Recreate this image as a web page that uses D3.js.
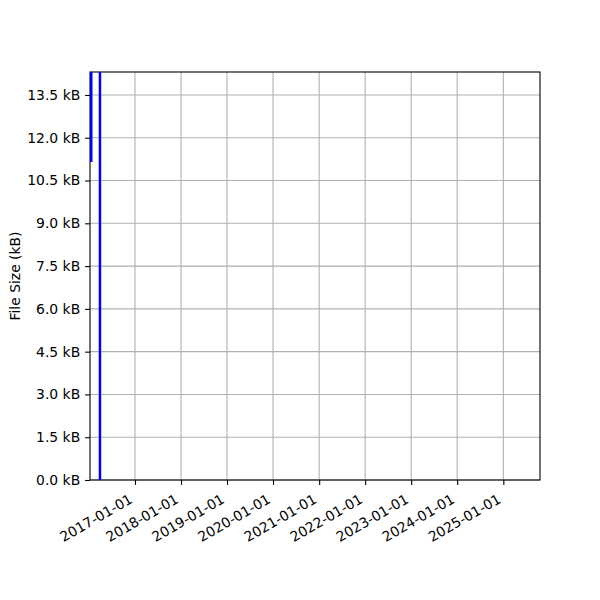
<!DOCTYPE html>
<html>
<head>
<meta charset="utf-8">
<script src="https://cdn.jsdelivr.net/npm/d3@7"></script>
<style>
  body { margin: 0; background: #fff; }
  svg { font-family: "DejaVu Sans", sans-serif; }
</style>
</head>
<body>
<script>
// data: file size snapshots (kB); values past the top are clipped by the axes
var dates = ["2016-01-20", "2016-01-20", "2016-03-29", "2016-03-29"];
var sizes = [11.15, 400, 400, 0];
var yTicks = [0, 1.5, 3, 4.5, 6, 7.5, 9, 10.5, 12, 13.5];
var xTickYears = [2017, 2018, 2019, 2020, 2021, 2022, 2023, 2024, 2025];

var W = 600, H = 600;
var mLeft = 90, mRight = 540, mTop = 72, mBottom = 480;
var fs = 13.9;

var svg = d3.select("body").append("svg")
  .attr("width", W).attr("height", H);
svg.append("rect").attr("width", W).attr("height", H).attr("fill", "#fff");

var parse = d3.utcParse("%Y-%m-%d");
var x = d3.scaleUtc()
  .domain([parse("2016-01-10"), parse("2025-10-19")])
  .range([mLeft, mRight]);
var y = d3.scaleLinear().domain([0, 14.305]).range([mBottom, mTop]);

// grid
var xTicks = xTickYears.map(function (yr) { return new Date(Date.UTC(yr, 0, 1)); });
svg.append("g").selectAll("line").data(xTicks).enter().append("line")
  .attr("x1", function (d) { return x(d); }).attr("x2", function (d) { return x(d); })
  .attr("y1", mTop).attr("y2", mBottom)
  .attr("stroke", "#b0b0b0").attr("stroke-width", 1.1);
svg.append("g").selectAll("line").data(yTicks).enter().append("line")
  .attr("x1", mLeft).attr("x2", mRight)
  .attr("y1", function (d) { return y(d); }).attr("y2", function (d) { return y(d); })
  .attr("stroke", "#b0b0b0").attr("stroke-width", 1.1);

// axes
var yAxis = svg.append("g").attr("transform", "translate(" + mLeft + ",0)")
  .call(d3.axisLeft(y).tickValues(yTicks).tickSize(4.9).tickPadding(4.9)
    .tickFormat(function (d) { return d.toFixed(1) + " kB"; }));
yAxis.select(".domain").remove();
yAxis.selectAll("line").attr("stroke", "#000").attr("stroke-width", 1.1);
yAxis.selectAll("text").attr("font-size", fs).attr("font-family", "DejaVu Sans").attr("fill", "#000");

var xAxis = svg.append("g").attr("transform", "translate(0," + mBottom + ")")
  .call(d3.axisBottom(x).tickValues(xTicks).tickSize(4.9)
    .tickFormat(d3.utcFormat("%Y-%m-%d")));
xAxis.select(".domain").remove();
xAxis.selectAll("line").attr("stroke", "#000").attr("stroke-width", 1.1);
xAxis.selectAll("text")
  .attr("font-size", fs).attr("font-family", "DejaVu Sans").attr("fill", "#000")
  .attr("text-anchor", "end").attr("dy", null).attr("y", null)
  .attr("transform", "translate(-2,22) rotate(-30)");

// spines
svg.append("rect").attr("x", mLeft).attr("y", mTop)
  .attr("width", mRight - mLeft).attr("height", mBottom - mTop)
  .attr("fill", "none").attr("stroke", "#000").attr("stroke-width", 1.1);

// line
svg.append("clipPath").attr("id", "clip").append("rect")
  .attr("x", mLeft).attr("y", mTop).attr("width", mRight - mLeft).attr("height", mBottom - mTop);
var pts = dates.map(function (d, i) { return [parse(d), sizes[i]]; });
svg.append("path").datum(pts)
  .attr("clip-path", "url(#clip)")
  .attr("fill", "none").attr("stroke", "#0000ff").attr("stroke-width", 2.5)
  .attr("d", d3.line().x(function (d) { return x(d[0]); }).y(function (d) { return y(d[1]); }));

svg.append("text")
  .attr("transform", "translate(20," + (mTop + mBottom) / 2 + ") rotate(-90)")
  .attr("text-anchor", "middle")
  .attr("font-size", fs).attr("fill", "#000")
  .text("File Size (kB)");
</script>
</body>
</html>
